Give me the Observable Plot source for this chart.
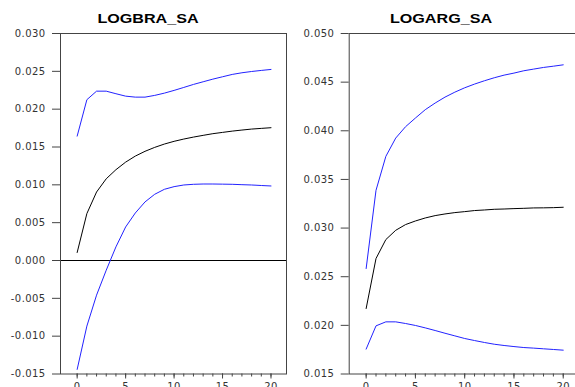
<!DOCTYPE html>
<html>
<head>
<meta charset="utf-8">
<script src="https://cdn.jsdelivr.net/npm/d3@7"></script>
<script src="https://cdn.jsdelivr.net/npm/@observablehq/plot@0.6"></script>
<style>
  body { margin: 0; background: white; }
  #wrap { position: relative; width: 575px; height: 387px; overflow: hidden; background: white; }
  .panel { position: absolute; top: 0; }
  .title { position: absolute; width: 200px; text-align: center; font-family: "Liberation Sans", Arial, sans-serif;
           font-weight: bold; font-size: 12.6px; line-height: 1; color: #000; transform: scaleX(1.28); transform-origin: center; }
</style>
</head>
<body>
<div id="wrap">
  <div class="title" id="t1" style="left:48px; top:13.3px;"></div>
  <div class="title" id="t2" style="left:341px; top:13.3px;"></div>
</div>
<script>
// ---- data ----
const titles = ["LOGBRA_SA", "LOGARG_SA"];
const steps = [0,1,2,3,4,5,6,7,8,9,10,11,12,13,14,15,16,17,18,19,20];
const xMajorTicks = [0, 5, 10, 15, 20];

const braMid = [0.00106, 0.0062, 0.00905, 0.0108, 0.0120, 0.0130, 0.0138, 0.01443, 0.01495, 0.01539, 0.01575,
                0.01605, 0.01631, 0.01654, 0.01676, 0.01693, 0.0171, 0.01724, 0.01737, 0.01746, 0.01755];
const braUpper = [0.01644, 0.02125, 0.02238, 0.02238, 0.02204, 0.02172, 0.02159, 0.02159, 0.02182, 0.02212, 0.02248,
                  0.02287, 0.02327, 0.02362, 0.02397, 0.02428, 0.02459, 0.02481, 0.02498, 0.02512, 0.02525];
const braLower = [-0.01439, -0.00867, -0.00458, -0.00128, 0.0018, 0.00443, 0.00628, 0.00774, 0.00875, 0.00941, 0.00976,
                  0.00998, 0.01007, 0.01011, 0.01011, 0.01009, 0.01007, 0.01002, 0.00998, 0.00991, 0.00985];

const argMid = [0.02173, 0.02687, 0.02882, 0.02977, 0.03036, 0.03073, 0.03104, 0.03128, 0.03145, 0.03159, 0.03169,
                0.0318, 0.03186, 0.03193, 0.03196, 0.032, 0.03203, 0.03207, 0.03208, 0.0321, 0.03214];
const argUpper = [0.02584, 0.03388, 0.03737, 0.03925, 0.04042, 0.04131, 0.04217, 0.04285, 0.04346, 0.04397, 0.04442,
                  0.0448, 0.04514, 0.04545, 0.04572, 0.04593, 0.04617, 0.04634, 0.04651, 0.04664, 0.04678];
const argLower = [0.01756, 0.01995, 0.02036, 0.02036, 0.02019, 0.01999, 0.01974, 0.01947, 0.01919, 0.01892, 0.01865,
                  0.01844, 0.01824, 0.01806, 0.01793, 0.01782, 0.01772, 0.01766, 0.01759, 0.01752, 0.01745];

const braYTicks = [-0.015, -0.010, -0.005, 0.000, 0.005, 0.010, 0.015, 0.020, 0.025, 0.030];
const argYTicks = [0.015, 0.020, 0.025, 0.030, 0.035, 0.040, 0.045, 0.050];

// ---- drawing ----
function panel({mid, upper, lower, yDomain, yTicks, marginLeft, marginRight, zeroLine}) {
  const marks = [
    Plot.axisX({ticks: steps, tickSize: 3, tickFormat: () => "", label: null, stroke: "#444"}),
    Plot.axisX({ticks: xMajorTicks, tickSize: 5, tickPadding: 4, tickFormat: d => String(d), label: null, stroke: "#444", fill: "#333"}),
    Plot.axisY({ticks: yTicks, tickSize: 8, tickPadding: 7, tickFormat: d => d.toFixed(3), label: null, stroke: "#444", fill: "#333"}),
  ];
  if (zeroLine) marks.push(Plot.ruleY([0], {stroke: "#000", strokeWidth: 1}));
  marks.push(
    Plot.line(upper, {x: (d, i) => steps[i], y: d => d, stroke: "#2222ff", strokeWidth: 1}),
    Plot.line(lower, {x: (d, i) => steps[i], y: d => d, stroke: "#2222ff", strokeWidth: 1}),
    Plot.line(mid, {x: (d, i) => steps[i], y: d => d, stroke: "#000", strokeWidth: 1}),
    Plot.frame({stroke: "#444", strokeWidth: 1})
  );
  return Plot.plot({
    width: 290,
    height: 387,
    marginLeft, marginRight,
    marginTop: 33,
    marginBottom: 13.5,
    x: {domain: [-1.72, 21.6]},
    y: {domain: yDomain},
    style: {fontFamily: "DejaVu Sans", fontSize: "10px", letterSpacing: "0.4px", color: "#333", background: "white"},
    marks
  });
}

const wrap = document.getElementById("wrap");
const p1 = panel({mid: braMid, upper: braUpper, lower: braLower, yDomain: [-0.015, 0.030], yTicks: braYTicks,
                  marginLeft: 60, marginRight: 4, zeroLine: true});
p1.classList.add("panel"); p1.style.left = "0px";
const p2 = panel({mid: argMid, upper: argUpper, lower: argLower, yDomain: [0.015, 0.050], yTicks: argYTicks,
                  marginLeft: 58.7, marginRight: 1.5, zeroLine: false});
p2.classList.add("panel"); p2.style.left = "290px";
wrap.insertBefore(p2, wrap.firstChild);
wrap.insertBefore(p1, wrap.firstChild);
document.getElementById("t1").textContent = titles[0];
document.getElementById("t2").textContent = titles[1];
</script>
</body>
</html>
